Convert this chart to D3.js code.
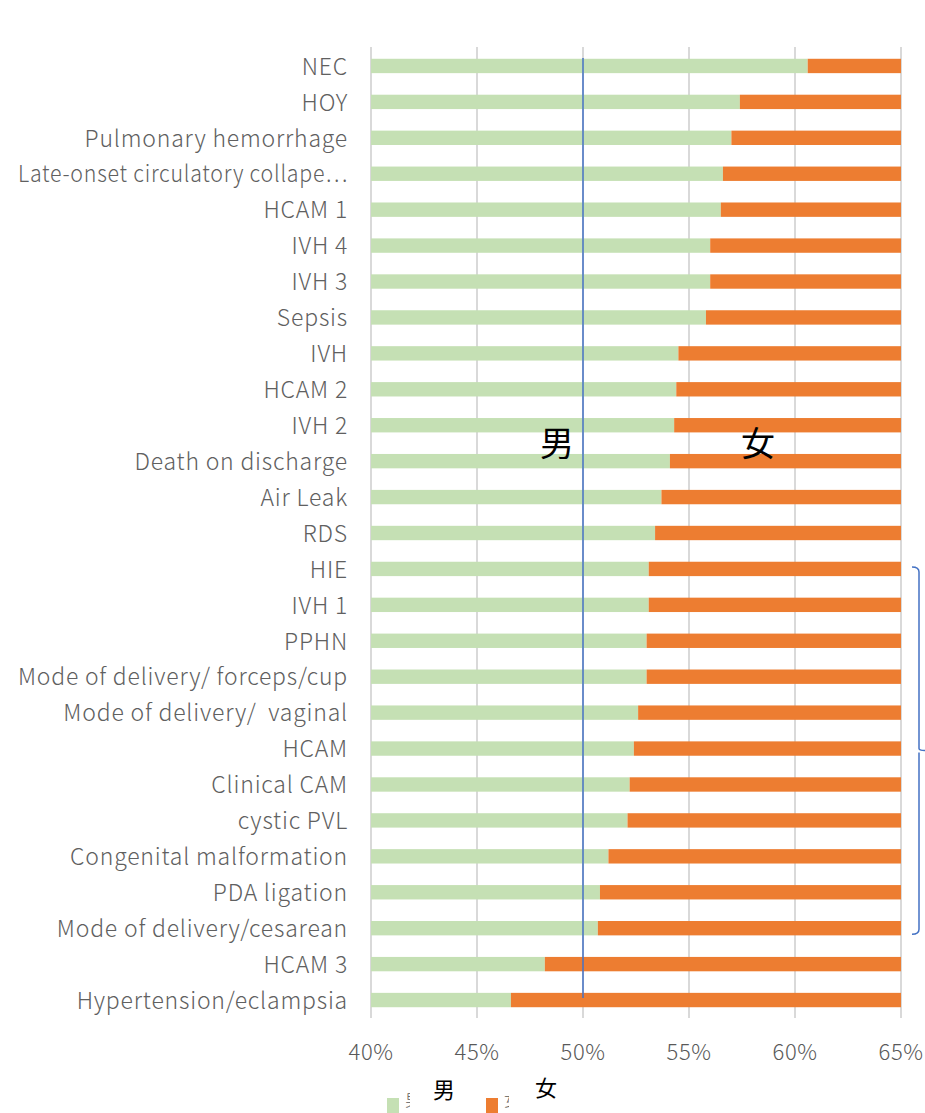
<!DOCTYPE html>
<html>
<head>
<meta charset="utf-8">
<script src="https://cdn.jsdelivr.net/npm/d3@7"></script>
<style>
  body { margin: 0; background: #fff; }
  svg { display: block; }
</style>
</head>
<body>
<div id="chart"></div>
<script>
var categories = ["NEC", "HOY", "Pulmonary hemorrhage", "Late-onset circulatory collape\u2026", "HCAM 1", "IVH 4", "IVH 3", "Sepsis", "IVH ", "HCAM 2", "IVH 2", "Death on discharge", "Air Leak ", "RDS", "HIE ", "IVH 1", "PPHN", "Mode of delivery/ forceps/cup", "Mode of delivery/  vaginal", "HCAM", "Clinical CAM", "cystic PVL", "Congenital malformation", "PDA ligation", "Mode of delivery/cesarean", "HCAM 3", "Hypertension/eclampsia"];
var male = [0.606, 0.574, 0.570, 0.566, 0.565, 0.560, 0.560, 0.558, 0.545, 0.544, 0.543, 0.541, 0.537, 0.534, 0.531, 0.531, 0.530, 0.530, 0.526, 0.524, 0.522, 0.521, 0.512, 0.508, 0.507, 0.482, 0.466];
var female = male.map(function(m) { return 1 - m; });
var ticks = [0.40, 0.45, 0.50, 0.55, 0.60, 0.65];
var seriesNames = ["男", "女"];

var width = 925, height = 1113;
var svg = d3.select("#chart").append("svg")
  .attr("width", width)
  .attr("height", height);

var font = "'Noto Sans CJK JP', 'Noto Sans', sans-serif";

var x = d3.scaleLinear().domain([0.40, 0.65]).range([371, 901]).clamp(true);
var y = d3.scaleBand().domain(categories).range([48, 1018])
  .paddingInner(0.6).paddingOuter(0.3);

// gridlines
svg.append("g").selectAll("line")
  .data(ticks)
  .enter().append("line")
  .attr("x1", function(d) { return x(d); })
  .attr("x2", function(d) { return x(d); })
  .attr("y1", 47)
  .attr("y2", 1018)
  .attr("stroke", "#d9d9d9")
  .attr("stroke-width", 2);

// tick labels
svg.append("g").selectAll("text")
  .data(ticks)
  .enter().append("text")
  .attr("x", function(d) { return x(d); })
  .attr("y", 1060)
  .attr("text-anchor", "middle")
  .style("font", "300 22px " + font)
  .style("letter-spacing", "0.5px")
  .attr("fill", "#595959")
  .text(function(d) { return d3.format(".0%")(d); });

// male bars
svg.append("g").selectAll("rect")
  .data(categories)
  .enter().append("rect")
  .attr("x", x(0.40))
  .attr("y", function(d) { return y(d); })
  .attr("width", function(d, i) { return x(male[i]) - x(0.40); })
  .attr("height", y.bandwidth())
  .attr("fill", "#c5e0b4");

// female bars stacked after male, cut at the axis end
svg.append("g").selectAll("rect")
  .data(categories)
  .enter().append("rect")
  .attr("x", function(d, i) { return x(male[i]); })
  .attr("y", function(d) { return y(d); })
  .attr("width", function(d, i) { return x(male[i] + female[i]) - x(male[i]); })
  .attr("height", y.bandwidth())
  .attr("fill", "#ed7d31");

// category labels
var labels = svg.append("g").selectAll("text")
  .data(categories)
  .enter().append("text")
  .attr("x", 348)
  .attr("y", function(d) { return y(d) + y.bandwidth() / 2; })
  .attr("dy", "0.38em")
  .attr("text-anchor", "end")
  .style("font", "300 23px " + font)
  .style("letter-spacing", "0.8px")
  .style("white-space", "pre")
  .attr("fill", "#606060")
  .text(function(d) { return d.replace(/ $/, ""); });

// the long one is squeezed to fit in the left margin
labels.each(function() {
  var w = this.getComputedTextLength();
  if (w > 330) {
    d3.select(this).attr("textLength", 330).attr("lengthAdjust", "spacingAndGlyphs");
  }
});

// 50% reference line
svg.append("line")
  .attr("x1", x(0.50)).attr("x2", x(0.50))
  .attr("y1", 58).attr("y2", 998)
  .attr("stroke", "#4472c4")
  .attr("stroke-width", 1.5);

// in-chart labels
svg.append("text")
  .attr("x", 557).attr("y", 456)
  .attr("text-anchor", "middle")
  .style("font", "34px " + font)
  .attr("fill", "#000")
  .text(seriesNames[0]);
svg.append("text")
  .attr("x", 758).attr("y", 456)
  .attr("text-anchor", "middle")
  .style("font", "34px " + font)
  .attr("fill", "#000")
  .text(seriesNames[1]);

// bracket on the right
var bTop = y("HIE ") + y.bandwidth() / 2 - 2;
var bBot = y("Mode of delivery/cesarean") + y.bandwidth() / 2 + 6;
var bMid = (bTop + bBot) / 2;
svg.append("path")
  .attr("d", "M912," + bTop + " Q919," + bTop + " 919," + (bTop + 5) +
    " L919," + (bMid - 2) + " Q919," + bMid + " 925," + bMid +
    " M919," + (bMid + 2) + " L919," + (bBot - 5) +
    " Q919," + bBot + " 912," + bBot)
  .attr("fill", "none")
  .attr("stroke", "#4472c4")
  .attr("stroke-width", 1.5);

// legend: swatches at the bottom edge, entry texts hidden under the text boxes
var legendX = [387, 486];
var colors = ["#c5e0b4", "#ed7d31"];
var legend = svg.append("g").selectAll("g")
  .data(seriesNames)
  .enter().append("g");
legend.append("rect")
  .attr("x", function(d, i) { return legendX[i]; })
  .attr("y", 1098)
  .attr("width", 12)
  .attr("height", 16)
  .attr("fill", function(d, i) { return colors[i]; });
legend.append("text")
  .attr("x", function(d, i) { return legendX[i] + 18; })
  .attr("y", 1106)
  .style("font", "300 16px " + font)
  .attr("fill", "#595959")
  .text(function(d) { return d; });
legend.append("rect")
  .attr("x", function(d, i) { return legendX[i] + 23; })
  .attr("y", 1076)
  .attr("width", 66)
  .attr("height", 37)
  .attr("fill", "#fff");

svg.append("text")
  .attr("x", 444).attr("y", 1098)
  .attr("text-anchor", "middle")
  .style("font", "22px " + font)
  .attr("fill", "#000")
  .text(seriesNames[0]);
svg.append("text")
  .attr("x", 546).attr("y", 1096)
  .attr("text-anchor", "middle")
  .style("font", "22px " + font)
  .attr("fill", "#000")
  .text(seriesNames[1]);
</script>
</body>
</html>
